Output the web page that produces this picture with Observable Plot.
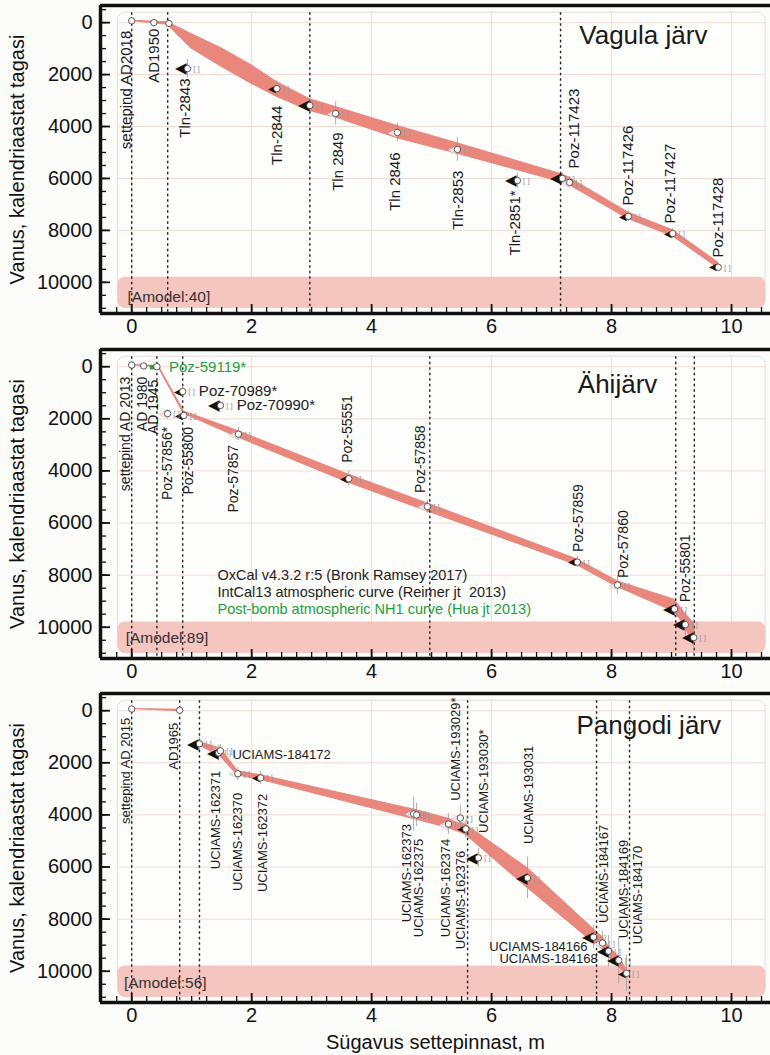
<!DOCTYPE html>
<html><head><meta charset="utf-8">
<script src="https://cdn.jsdelivr.net/npm/d3@7"></script>
<script src="https://cdn.jsdelivr.net/npm/@observablehq/plot@0.6"></script>
<style>
body{margin:0;background:#fcfcfa;font-family:"Liberation Sans",Arial,sans-serif;}
#wrap svg{display:block;}
</style></head><body><div id="wrap"></div>
<script>
// ---------- shared tick values ----------
const xMajor = [0, 2, 4, 6, 8, 10];
const xMinor = d3.range(-0.25, 10.6, 0.25);
const yMajor = [0, 2000, 4000, 6000, 8000, 10000];
const yMinor = d3.range(-500, 11001, 500);

// ---------- Vagula järv ----------
const vDepth = [0, 0.37, 0.62, 0.93, 2.42, 2.97, 3.4, 4.43, 5.43, 6.43, 7.18, 7.3, 8.28, 9.02, 9.78];
const vAge   = [-68, 0, 30, 1770, 2540, 3190, 3500, 4230, 4880, 6080, 6000, 6150, 7460, 8120, 9420];
const vErr   = [0, 0, 0, 350, 300, 250, 450, 350, 450, 300, 200, 200, 200, 200, 150];
const vKind  = ["n","n","n","B","b","B","g","g","g","B","B","g","b","b","b"];
const vEnvDepth = [0, 0.6, 1.0, 1.5, 2.0, 2.42, 2.97, 3.4, 4.43, 5.43, 7.18, 7.3, 8.28, 9.02, 9.78];
const vEnvLo    = [-68, -10, 450, 1000, 1650, 2300, 2950, 3250, 3980, 4650, 5850, 5980, 7320, 8000, 9250];
const vEnvHi    = [-68, 80, 1000, 1700, 2350, 2850, 3400, 3650, 4450, 5050, 6150, 6250, 7560, 8220, 9450];
const vDotted = [0, 0.6, 2.97, 7.15];
const vLabText = ["settepind AD2018","AD1950","Tln-2843","Tln-2844","Tln 2849","Tln 2846","Tln-2853","Tln-2851*","Poz-117423","Poz-117426","Poz-117427","Poz-117428"];
const vLabX    = [-0.1, 0.37, 0.9, 2.43, 3.45, 4.4, 5.45, 6.4, 7.37, 8.27, 8.98, 9.78];
const vLabY    = [310, 230, 2150, 3200, 4230, 5000, 5700, 6460, 5615, 7040, 7730, 9040];
const vLabSide = ["below","below","below","below","below","below","below","below","above","above","above","above"];

// ---------- Ähijärv ----------
const aDepth = [0, 0.2, 0.42, 0.6, 0.87, 0.85, 1.48, 1.78, 3.62, 4.93, 7.43, 8.1, 9.05, 9.23, 9.37];
const aAge   = [-63, -30, 0, 1800, 1870, 950, 1490, 2590, 4300, 5370, 7500, 8380, 9300, 9900, 10400];
const aErr   = [0, 0, 0, 150, 150, 200, 150, 250, 300, 250, 200, 350, 300, 500, 700];
const aKind  = ["n","n","G","g","b","b","B","g","b","g","b","g","B","B","B"];
const aEnvDepth = [0, 0.42, 0.45, 0.87, 1.78, 3.62, 4.93, 7.43, 8.1, 9.05, 9.23, 9.37];
const aEnvLo    = [-63, -20, -20, 1720, 2480, 4150, 5250, 7400, 8250, 8950, 9500, 9850];
const aEnvHi    = [-63, 20, 30, 1800, 2720, 4450, 5550, 7620, 8450, 9400, 9950, 10700];
const aDotted = [0, 0.42, 0.85, 4.97, 9.07, 9.38];
const aLabText = ["settepind AD 2013","AD 1980","AD 1945","Poz-57856*","Poz-55800","Poz-57857","Poz-55551","Poz-57858","Poz-57859","Poz-57860","Poz-55801"];
const aLabX    = [-0.1, 0.18, 0.37, 0.6, 0.95, 1.7, 3.6, 4.82, 7.45, 8.2, 9.23];
const aLabY    = [385, 385, 500, 2310, 2310, 3000, 3690, 4850, 7110, 8110, 9040];
const aLabSide = ["below","below","below","below","below","below","above","above","above","above","above"];
const aHorText = ["Poz-59119*","Poz-70989*","Poz-70990*"];
const aHorX    = [0.62, 1.12, 1.75];
const aHorY    = [0, 950, 1490];
const aHorColor = ["#20a040","#222","#222"];
const aNote = ["OxCal v4.3.2 r:5 (Bronk Ramsey 2017)","IntCal13 atmospheric curve (Reimer jt  2013)","Post-bomb atmospheric NH1 curve (Hua jt 2013)"];
const aNoteY = [8010, 8660, 9310];
const aNoteColor = ["#222","#222","#20a040"];

// ---------- Pangodi järv ----------
const pDepth = [0, 0.8, 1.13, 1.45, 1.48, 1.77, 2.15, 4.7, 4.75, 5.28, 5.48, 5.57, 5.78, 6.6, 7.7, 7.85, 7.95, 8.12, 8.25];
const pAge   = [-65, -15, 1270, 1620, 1540, 2420, 2580, 3960, 4000, 4350, 4120, 4540, 5650, 6420, 8690, 8920, 9230, 9580, 10080];
const pErr   = [0, 0, 250, 300, 250, 250, 250, 650, 450, 400, 500, 350, 350, 800, 450, 450, 600, 900, 700];
const pKind  = ["n","n","B","B","g","g","b","g","g","g","g","b","B","B","B","g","B","B","b"];
const pEnvSeg   = ["a","a","b","b","b","b","b","b","b","b","b","b","b","b","b"];
const pEnvDepth = [0, 0.8, 1.13, 1.48, 1.77, 2.15, 4.7, 5.28, 5.57, 6.6, 7.7, 7.85, 7.95, 8.12, 8.25];
const pEnvLo    = [-65, -30, 1200, 1450, 2330, 2480, 3800, 4150, 4380, 6050, 8400, 8700, 9050, 9450, 9950];
const pEnvHi    = [-65, 20, 1330, 1750, 2480, 2650, 4150, 4500, 4750, 6800, 8900, 9150, 9450, 9800, 10150];
const pDotted = [0, 0.8, 1.13, 5.6, 7.75, 8.3];
const pLabText = ["settepind AD 2015","AD1965","UCIAMS-162371","UCIAMS-162370","UCIAMS-162372","UCIAMS-162373","UCIAMS-162375","UCIAMS-162374","UCIAMS-162376","UCIAMS-193029*","UCIAMS-193030*","UCIAMS-193031","UCIAMS-184167","UCIAMS-184169","UCIAMS-184170"];
const pLabX    = [-0.1, 0.7, 1.4, 1.77, 2.18, 4.58, 4.78, 5.23, 5.48, 5.4, 5.87, 6.62, 7.87, 8.2, 8.43];
const pLabY    = [270, 460, 2310, 3150, 3190, 4350, 4920, 4920, 5380, 3460, 4690, 5120, 8150, 8730, 8960];
const pLabSide = ["below","below","below","below","below","below","below","below","below","above","above","above","above","above","above"];
const pHorText = ["UCIAMS-184172","UCIAMS-184166","UCIAMS-184168"];
const pHorX    = [1.68, 7.6, 7.77];
const pHorY    = [1700, 9080, 9540];
const pHorAnchor = ["start","end","end"];

// ---------- build ----------
const X_DOMAIN = [-0.52, 10.65];
const Y_DOMAIN = [-660, 11200];
const BOX = {x1: -0.23, x2: 10.57, y1: -385, y2: 11000, amodelTop: 9800};
const FONT = "Liberation Sans, Arial, sans-serif";
const Y_TITLE = "Vanus, kalendriaastat tagasi";
const WIDTH = 770, MARGIN_LEFT = 100;

function zipPts(d, a, e, k) { return d.map((v, i) => ({d: v, a: a[i], e: e[i], k: k[i]})); }
function zipEnv(d, lo, hi, seg) { return d.map((v, i) => ({d: v, lo: lo[i], hi: hi[i], seg: seg ? seg[i] : "a"})); }
function zipLab(t, x, y, s) { return t.map((v, i) => ({t: v, x: x[i], y: y[i], s: s[i]})); }

function panel(o) {
  const pts = o.pts;
  // convert tick lengths in pixels into data units of this panel
  const xPerPx = (X_DOMAIN[1] - X_DOMAIN[0]) / (WIDTH - MARGIN_LEFT);
  const yPerPx = (Y_DOMAIN[1] - Y_DOMAIN[0]) / (o.height - o.marginTop - o.marginBottom);
  const marks = [
    Plot.rect([BOX], {x1: "x1", x2: "x2", y1: "y1", y2: "y2", rx: 8, fill: "#fdfdfc", stroke: "#e0e0e0", strokeWidth: 1}),
    Plot.ruleX(xMajor, {y1: BOX.y1, y2: BOX.y2, stroke: "#f3dbd4", strokeWidth: 1}),
    Plot.ruleY(yMajor, {x1: BOX.x1, x2: BOX.x2, stroke: "#f3dbd4", strokeWidth: 1}),
    Plot.rect([BOX], {x1: "x1", x2: "x2", y1: "amodelTop", y2: "y2", rx: 7, fill: "#f5c5bf"}),
    Plot.areaY(o.env, {x: "d", y1: "lo", y2: "hi", z: "seg", fill: "#e9877d", stroke: "#e9877d", strokeWidth: 1.2}),
    Plot.ruleX(o.dotted, {y1: BOX.y1, y2: 11150, stroke: "#222", strokeWidth: 1.4, strokeDasharray: "2.5,3"}),
    Plot.ruleX(pts.filter(p => p.e > 0), {x: "d", y1: p => p.a - p.e, y2: p => p.a + p.e, stroke: "#999", strokeWidth: 0.8}),
    Plot.text(pts.filter(p => p.k === "g"), {x: "d", y: "a", text: () => "◀", dx: -5, fontSize: 11, fill: "#efe2dc", stroke: "#888", strokeWidth: 0.5}),
    Plot.text(pts.filter(p => p.k === "b"), {x: "d", y: "a", text: () => "◀", dx: -5, fontSize: 10, fill: "#111"}),
    Plot.text(pts.filter(p => p.k === "B"), {x: "d", y: "a", text: () => "◀", dx: -6, fontSize: 15, fill: "#111"}),
    Plot.text(pts.filter(p => p.k === "G"), {x: "d", y: "a", text: () => "■", dx: -5, fontSize: 9, fill: "#20a040"}),
    Plot.text(pts.filter(p => p.e > 0), {x: "d", y: "a", text: () => "[ ]", dx: 9, fontSize: 8, fill: "#999"}),
    Plot.dot(pts, {x: "d", y: "a", r: 3.2, fill: "white", stroke: "#333", strokeWidth: 0.8}),
    Plot.text(o.labels.filter(l => l.s === "below"), {x: "x", y: "y", text: "t", rotate: -90, textAnchor: "end", fontSize: o.labelSize, fill: "#1a1a1a"}),
    Plot.text(o.labels.filter(l => l.s === "above"), {x: "x", y: "y", text: "t", rotate: -90, textAnchor: "start", fontSize: o.labelSize, fill: "#1a1a1a"}),
    Plot.text(["[Amodel:" + o.amodel + "]"], {x: o.amodelX, y: o.amodelY, text: d => d, textAnchor: "start", fontSize: 15.5, fill: "#333"}),
    Plot.text([o.title], {x: o.titleX, y: o.titleY, text: d => d, fontSize: 26, fill: "#1a1a1a"}),
    ...(o.extra || []),
    Plot.axisY({ticks: yMajor, tickSize: 0, tickPadding: 8, tickFormat: "d", fontSize: 20, label: null, fill: "#111"}),
    Plot.axisX({ticks: xMajor, tickSize: 0, tickPadding: 5, fontSize: 20, label: null, fill: "#111"}),
    // inward ticks (minor every 500 yr / 0.25 m, major at labelled values)
    Plot.ruleY(yMinor, {x1: X_DOMAIN[0], x2: X_DOMAIN[0] + 6 * xPerPx, stroke: "#111", strokeWidth: 1.3}),
    Plot.ruleY(yMajor, {x1: X_DOMAIN[0], x2: X_DOMAIN[0] + 10 * xPerPx, stroke: "#111", strokeWidth: 1.8}),
    Plot.ruleX(xMinor, {y1: Y_DOMAIN[1], y2: Y_DOMAIN[1] - 6 * yPerPx, stroke: "#111", strokeWidth: 1.3}),
    Plot.ruleX(xMajor, {y1: Y_DOMAIN[1], y2: Y_DOMAIN[1] - 9 * yPerPx, stroke: "#111", strokeWidth: 1.8}),
    Plot.ruleX([X_DOMAIN[0]], {stroke: "#111", strokeWidth: 3.5}),
    Plot.ruleY(Y_DOMAIN, {stroke: "#111", strokeWidth: 3.5}),
    Plot.text([Y_TITLE], {x: X_DOMAIN[0], y: (Y_DOMAIN[0] + Y_DOMAIN[1]) / 2, text: d => d, rotate: -90, dx: -83, fontSize: 20, fill: "#111", textAnchor: "middle"})
  ];
  if (o.xTitle) marks.push(Plot.text([o.xTitle], {x: (X_DOMAIN[0] + X_DOMAIN[1]) / 2, y: Y_DOMAIN[1], text: d => d, dy: 40, fontSize: 20, fill: "#111"}));
  return Plot.plot({
    width: WIDTH, height: o.height, marginLeft: MARGIN_LEFT, marginRight: 0, marginTop: o.marginTop, marginBottom: o.marginBottom,
    style: {fontFamily: FONT, background: "transparent", overflow: "visible"},
    x: {domain: X_DOMAIN, label: null},
    y: {domain: Y_DOMAIN, reverse: true, label: null},
    marks
  });
}

const wrap = document.getElementById("wrap");
wrap.append(panel({
  height: 340, marginTop: 5, marginBottom: 27,
  pts: zipPts(vDepth, vAge, vErr, vKind),
  env: zipEnv(vEnvDepth, vEnvLo, vEnvHi),
  dotted: vDotted,
  labels: zipLab(vLabText, vLabX, vLabY, vLabSide), labelSize: 15,
  title: "Vagula järv", titleX: 8.53, titleY: 500,
  amodel: 40, amodelX: -0.07, amodelY: 10580
}));
wrap.append(panel({
  height: 344, marginTop: 9, marginBottom: 26,
  pts: zipPts(aDepth, aAge, aErr, aKind),
  env: zipEnv(aEnvDepth, aEnvLo, aEnvHi),
  dotted: aDotted,
  labels: zipLab(aLabText, aLabX, aLabY, aLabSide), labelSize: 14,
  title: "Ähijärv", titleX: 8.1, titleY: 700,
  amodel: 89, amodelX: -0.1, amodelY: 10400,
  extra: [
    Plot.text(aHorText.map((t, i) => ({t, x: aHorX[i], y: aHorY[i], c: aHorColor[i]})), {x: "x", y: "y", text: "t", fill: "c", textAnchor: "start", fontSize: 15}),
    Plot.text(aNote.map((t, i) => ({t, y: aNoteY[i], c: aNoteColor[i]})), {x: 1.43, y: "y", text: "t", fill: "c", textAnchor: "start", fontSize: 14.5})
  ]
}));
wrap.append(panel({
  height: 371, marginTop: 9, marginBottom: 53,
  pts: zipPts(pDepth, pAge, pErr, pKind),
  env: zipEnv(pEnvDepth, pEnvLo, pEnvHi, pEnvSeg),
  dotted: pDotted,
  labels: zipLab(pLabText, pLabX, pLabY, pLabSide), labelSize: 13,
  title: "Pangodi järv", titleX: 8.62, titleY: 580,
  amodel: 56, amodelX: -0.13, amodelY: 10450,
  xTitle: "Sügavus settepinnast, m",
  extra: [
    Plot.text(pHorText.map((t, i) => ({t, x: pHorX[i], y: pHorY[i], a: pHorAnchor[i]})).filter(d => d.a === "start"), {x: "x", y: "y", text: "t", textAnchor: "start", fontSize: 13, fill: "#1a1a1a"}),
    Plot.text(pHorText.map((t, i) => ({t, x: pHorX[i], y: pHorY[i], a: pHorAnchor[i]})).filter(d => d.a === "end"), {x: "x", y: "y", text: "t", textAnchor: "end", fontSize: 13, fill: "#1a1a1a"})
  ]
}));
</script></body></html>
